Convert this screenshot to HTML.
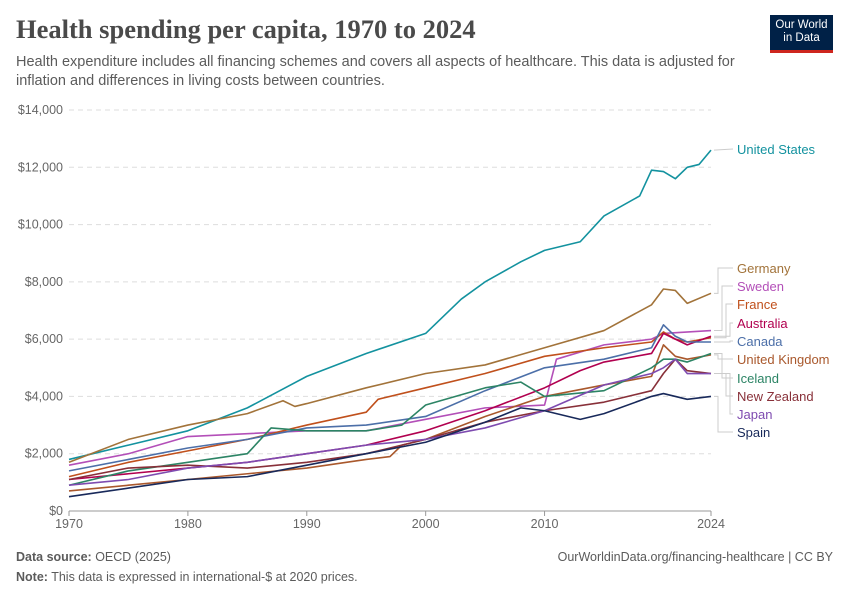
<!DOCTYPE html>
<html><head><meta charset="utf-8">
<style>
body{margin:0;background:#fff;font-family:"Liberation Sans",sans-serif;}
#wrap{position:relative;width:850px;height:600px;overflow:hidden;}
h1{position:absolute;left:16px;top:14px;margin:0;font-family:"Liberation Serif",serif;font-weight:bold;font-size:26.5px;color:#4a4a4a;}
.sub{position:absolute;left:16px;top:53px;width:720px;font-size:14.5px;line-height:19px;color:#5b5b5b;}
.logo{position:absolute;left:770px;top:15px;width:63px;height:38px;background:#002147;color:#fff;font-size:11.5px;line-height:13px;text-align:center;padding-top:4px;box-sizing:border-box;border-bottom:3px solid #ce261e;}
.foot{position:absolute;font-size:12.5px;color:#5b5b5b;}
</style></head><body>
<div id="wrap">
<h1>Health spending per capita, 1970 to 2024</h1>
<div class="sub">Health expenditure includes all financing schemes and covers all aspects of healthcare. This data is adjusted for inflation and differences in living costs between countries.</div>
<div class="logo">Our World<br>in Data</div>
<svg id="chart" width="850" height="600" style="position:absolute;left:0;top:0"></svg>
<div class="foot" style="left:16px;top:550px"><b>Data source:</b> OECD (2025)</div>
<div class="foot" style="right:17px;top:550px">OurWorldinData.org/financing-healthcare | CC BY</div>
<div class="foot" style="left:16px;top:570px"><b>Note:</b> This data is expressed in international-$ at 2020 prices.</div>
</div>
<script>
const yTicks=[0,2000,4000,6000,8000,10000,12000,14000];
const yTickLabels=["$0","$2,000","$4,000","$6,000","$8,000","$10,000","$12,000","$14,000"];
const xTicks=[1970,1980,1990,2000,2010,2024];
const names=["United States","Germany","Sweden","France","Australia","Canada","United Kingdom","Iceland","New Zealand","Japan","Spain"];
const colors=["#13929f","#a2733a","#b34fb8","#c0501c","#b1004f","#4c6fa8","#a9582c","#2c8465","#883039","#7e4bb0","#18295a"];
const usYears=[1970,1975,1980,1985,1990,1995,2000,2003,2005,2008,2010,2013,2015,2018,2019,2020,2021,2022,2023,2024];
const usVals=[1800,2300,2800,3600,4700,5500,6200,7400,8000,8700,9100,9400,10300,11000,11900,11850,11600,12000,12100,12600];
const deYears=[1970,1975,1980,1985,1988,1989,1990,1995,2000,2005,2010,2015,2019,2020,2021,2022,2024];
const deVals=[1700,2500,3000,3400,3850,3650,3750,4300,4800,5100,5700,6300,7200,7750,7700,7250,7600];
const seYears=[1970,1975,1980,1985,1990,1995,2000,2005,2010,2011,2015,2019,2020,2024];
const seVals=[1600,2000,2600,2700,2800,2800,3200,3600,3700,5300,5800,6000,6200,6300];
const frYears=[1970,1975,1980,1985,1990,1995,1996,2000,2005,2010,2015,2019,2020,2021,2022,2024];
const frVals=[1200,1700,2100,2500,3000,3450,3900,4300,4800,5400,5700,5900,6250,6000,5900,6050];
const auYears=[1970,1975,1980,1985,1990,1995,2000,2005,2010,2013,2015,2019,2020,2021,2022,2024];
const auVals=[1100,1300,1500,1700,2000,2300,2800,3500,4300,4900,5200,5500,6200,6000,5800,6100];
const caYears=[1970,1975,1980,1985,1990,1995,2000,2005,2010,2015,2019,2020,2021,2022,2024];
const caVals=[1400,1800,2200,2500,2900,3000,3300,4200,5000,5300,5700,6500,6100,5900,5900];
const ukYears=[1970,1975,1980,1985,1990,1995,1997,1998,2000,2005,2010,2015,2019,2020,2021,2022,2024];
const ukVals=[700,900,1100,1300,1500,1800,1900,2300,2500,3300,4000,4400,4700,5800,5400,5300,5450];
const isYears=[1970,1975,1980,1985,1987,1990,1995,1998,2000,2005,2008,2010,2015,2019,2020,2021,2022,2024];
const isVals=[900,1400,1700,2000,2900,2800,2800,3000,3700,4300,4500,4000,4200,5000,5300,5300,5200,5500];
const nzYears=[1970,1975,1980,1985,1990,1995,2000,2005,2010,2015,2019,2020,2021,2022,2024];
const nzVals=[1100,1500,1600,1500,1700,2000,2500,3100,3500,3800,4200,4800,5300,4900,4800];
const jpYears=[1970,1975,1980,1985,1990,1995,2000,2005,2010,2015,2019,2020,2021,2022,2024];
const jpVals=[900,1100,1500,1700,2000,2300,2500,2900,3500,4400,4800,5000,5300,4800,4800];
const esYears=[1970,1975,1980,1985,1990,1995,2000,2005,2008,2010,2013,2015,2019,2020,2022,2024];
const esVals=[500,800,1100,1200,1600,2000,2400,3100,3600,3500,3200,3400,4000,4100,3900,4000];
const allYears=[usYears,deYears,seYears,frYears,auYears,caYears,ukYears,isYears,nzYears,jpYears,esYears];
const allVals=[usVals,deVals,seVals,frVals,auVals,caVals,ukVals,isVals,nzVals,jpVals,esVals];
const X0=69,X1=711,Y0=511,Y1=110;
const xS=v=>X0+(v-1970)/(2024-1970)*(X1-X0);
const yS=v=>Y0-v/14000*(Y0-Y1);
const svg=document.getElementById('chart');
const NS="http://www.w3.org/2000/svg";
function mk(t,a){const e=document.createElementNS(NS,t);for(const k in a)e.setAttribute(k,a[k]);svg.appendChild(e);return e;}
yTicks.forEach((t,i)=>{
  const l=mk('line',{x1:X0,x2:X1,y1:yS(t),y2:yS(t),stroke:'#ddd','stroke-dasharray':i?'5,4':'',});
  
  
  const tx=mk('text',{x:63,y:yS(t)+4,'text-anchor':'end','font-size':12.5,fill:'#666'});
  tx.textContent=yTickLabels[i];
  
  
});
const ax=mk('line',{x1:X0,x2:X1,y1:Y0,y2:Y0,stroke:'#999'});


xTicks.forEach(t=>{
  const tk=mk('line',{x1:xS(t),x2:xS(t),y1:Y0,y2:Y0+5,stroke:'#999'});
  
  
  const tx=mk('text',{x:xS(t),y:Y0+17,'text-anchor':'middle','font-size':12.5,fill:'#666'});
  tx.textContent=t;
  
  
});
const labelY=[149,268,286,304,323,341,359,378,396,414,432];
const elbowX=[0,718,722,726,730,730,718,722,726,730,718];
names.forEach((n,i)=>{
  const ys=allYears[i],vs=allVals[i];
  const p=mk('polyline',{points:ys.map((y,j)=>xS(y)+','+yS(vs[j])).join(' '),fill:'none',stroke:colors[i],'stroke-width':1.6,'stroke-linejoin':'round'});
  
  
  const ey=yS(vs[vs.length-1]);
  if(i>0){
    const c=mk('polyline',{points:`${X1+3},${ey} ${elbowX[i]},${ey} ${elbowX[i]},${labelY[i]} 733,${labelY[i]}`,fill:'none',stroke:'#ccc','stroke-width':1});
    
    
  } else {
    const c=mk('line',{x1:X1+3,x2:733,y1:ey,y2:labelY[i],stroke:'#ccc'});
    
    
  }
  const t=mk('text',{x:737,y:labelY[i]+5,'font-size':13,fill:colors[i]});
  t.textContent=n;
  
  
});
</script>
</body></html>
